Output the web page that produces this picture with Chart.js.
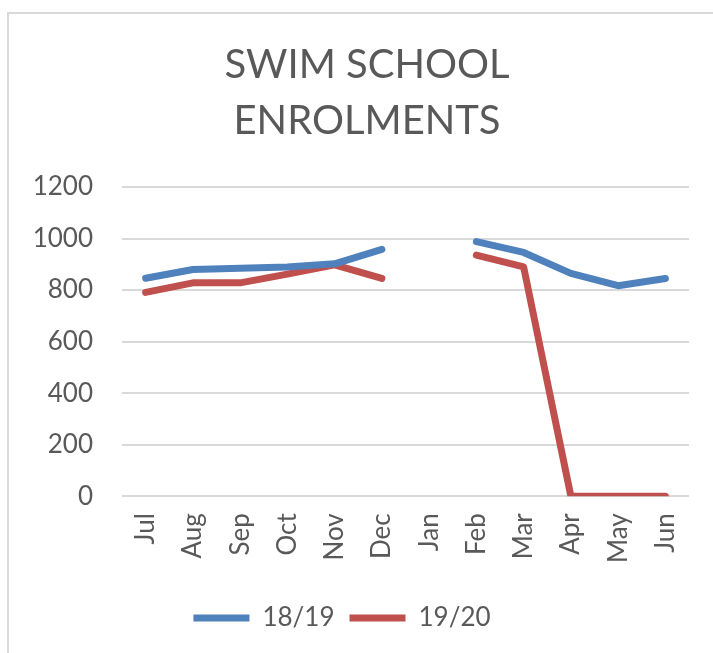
<!DOCTYPE html>
<html>
<head>
<meta charset="utf-8">
<script src="https://cdn.jsdelivr.net/npm/chart.js@4"></script>
<style>
  html, body { margin: 0; padding: 0; background: #fff; }
  #frame {
    position: absolute; left: 7px; top: 12px;
    width: 706px; height: 641px;
    border-left: 2px solid #d9d9d9;
    border-top: 2px solid #d9d9d9;
  }
</style>
</head>
<body>
<div id="frame"><canvas id="chart"></canvas></div>
<script>
// ---- data ----
const months   = ['Jul','Aug','Sep','Oct','Nov','Dec','Jan','Feb','Mar','Apr','May','Jun'];
const season1819 = [846, 880, 885, 890, 902, 958, null, 988, 946, 865, 817, 845];
const season1920 = [791, 828, 828, 862, 898, 845, null, 936, 890, 0, 0, 0];
const titleLines = ['SWIM SCHOOL', 'ENROLMENTS'];

const TEXT  = '#595959';
const GRID  = '#d9d9d9';
const BLUE  = '#4f81bd';
const RED   = '#c0504d';
const FONT  = 'Lato, "Liberation Sans", sans-serif';

Chart.defaults.font.family = FONT;
Chart.defaults.color = TEXT;

function lineSet(label, data, color) {
  return {
    label: label,
    data: data,
    borderColor: color,
    backgroundColor: color,
    borderWidth: 7,
    borderCapStyle: 'round',
    borderJoinStyle: 'round',
    pointRadius: 0,
    pointHoverRadius: 0,
    tension: 0,
    spanGaps: false,
    fill: false
  };
}

// title and legend are not centred on the same line in the original
const boxNudge = {
  id: 'boxNudge',
  afterLayout(chart) {
    chart.titleBlock.left  += 18;
    chart.titleBlock.right += 18;
    chart.legend.left  -= 7;
    chart.legend.right -= 7;
  }
};

new Chart(document.getElementById('chart'), {
  type: 'line',
  data: {
    labels: months,
    datasets: [
      lineSet('18/19', season1819, BLUE),
      lineSet('19/20', season1920, RED)
    ]
  },
  plugins: [boxNudge],
  options: {
    responsive: true,
    maintainAspectRatio: false,
    animation: false,
    layout: { padding: { left: 0, right: 26, top: 0, bottom: 14 } },
    plugins: {
      title: {
        display: true,
        text: titleLines,
        color: TEXT,
        font: { size: 40, weight: 'normal', lineHeight: 1.4 },
        padding: { top: 23, bottom: 38 }
      },
      legend: {
        position: 'bottom',
        labels: {
          usePointStyle: true,
          pointStyle: 'line',
          pointStyleWidth: 56,
          color: TEXT,
          font: { size: 26 },
          padding: 15
        }
      },
      tooltip: { enabled: false }
    },
    scales: {
      x: {
        offset: true,
        grid: { display: false, drawTicks: false },
        border: { display: false },
        ticks: {
          color: TEXT,
          font: { size: 26 },
          minRotation: 90,
          maxRotation: 90,
          padding: 17,
          autoSkip: false
        },
        afterFit: s => {
          s.height += 10;
          s.paddingLeft = 0;
          s.paddingRight = 0;
        }
      },
      y: {
        min: 0,
        max: 1200,
        grid: { color: GRID, lineWidth: 2, drawTicks: false },
        border: { display: false },
        ticks: {
          stepSize: 200,
          color: TEXT,
          font: { size: 26 },
          padding: 29,
          callback: v => String(v)
        },
        afterFit: s => { s.width = 113; }
      }
    }
  }
});
</script>
</body>
</html>
